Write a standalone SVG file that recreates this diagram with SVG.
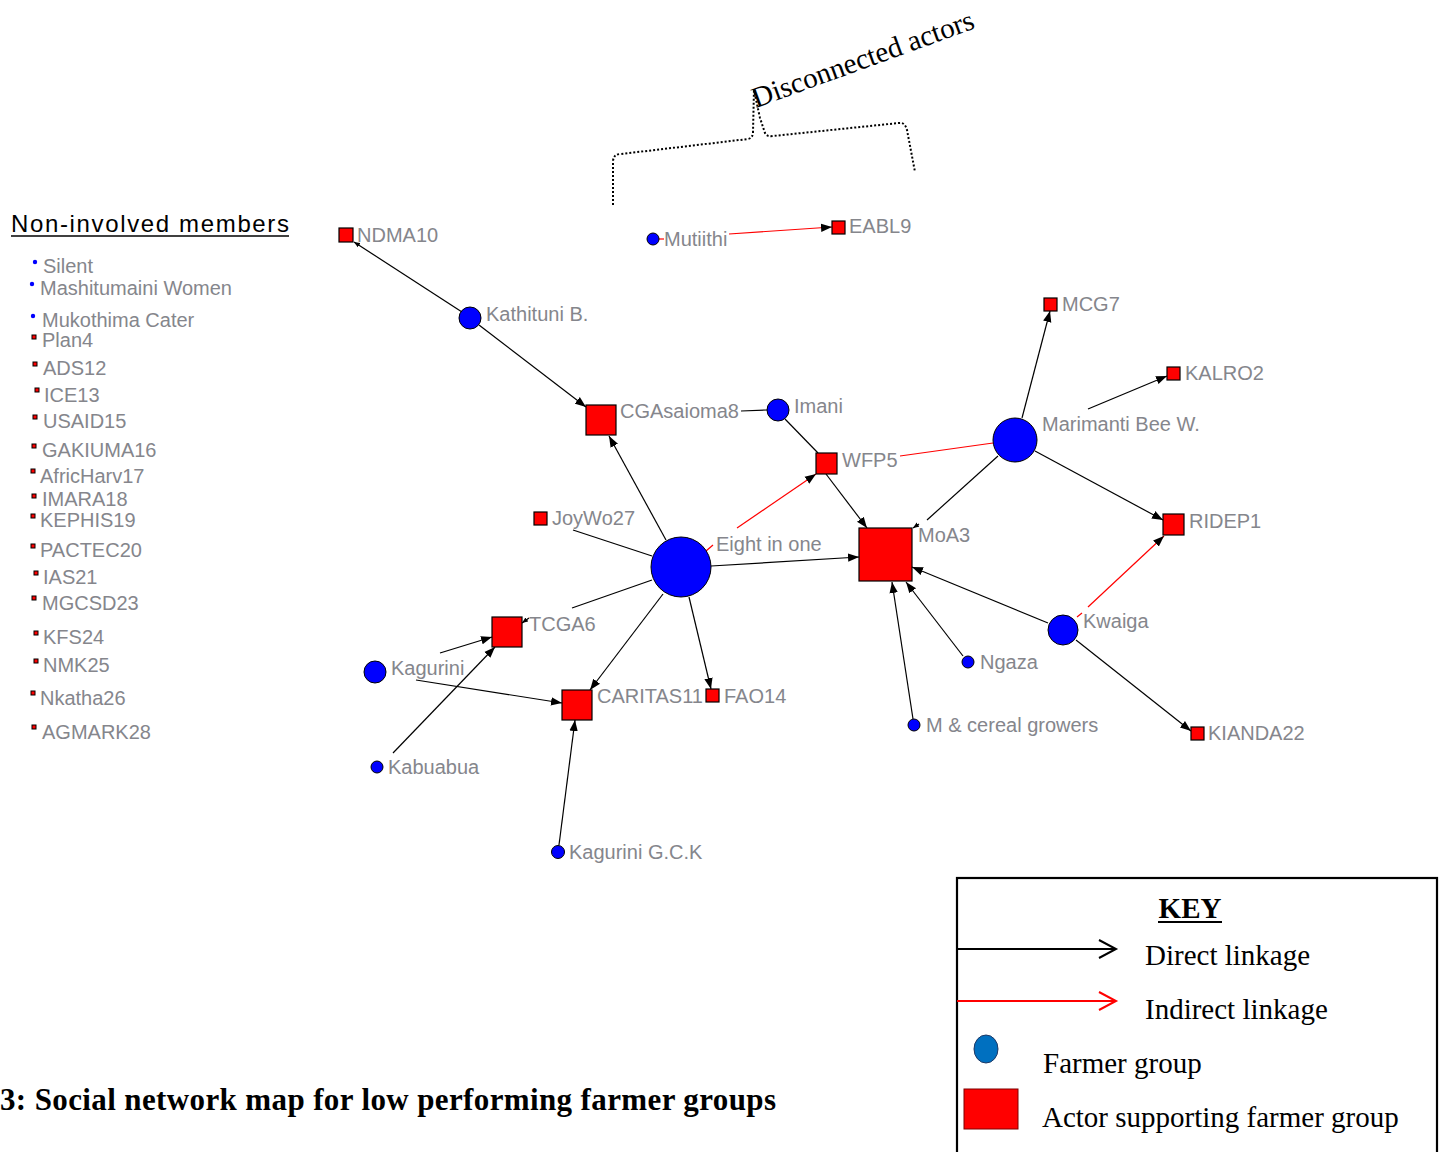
<svg xmlns="http://www.w3.org/2000/svg" width="1443" height="1152" viewBox="0 0 1443 1152">
  <defs>
    <marker id="arr" markerUnits="userSpaceOnUse" markerWidth="12" markerHeight="10" refX="11" refY="5" orient="auto">
      <path d="M0,0.8 L11,5 L0,9.2 Z" fill="#000"/>
    </marker>
    <marker id="arrS" markerUnits="userSpaceOnUse" markerWidth="7" markerHeight="6" refX="6" refY="3" orient="auto">
      <path d="M0,0.5 L6,3 L0,5.5 Z" fill="#000"/>
    </marker>
    <style>
      .lbl { font-family: "Liberation Sans", Arial, sans-serif; font-size: 20px; fill: #85868c; }
      .fg { fill: #0000ff; stroke: #000; stroke-width: 1; }
      .act { fill: #ff0000; stroke: #000; stroke-width: 1.2; }
      .mini-act { fill: #ff0000; stroke: #000; stroke-width: 1; }
      .dl { stroke: #000; stroke-width: 1.2; fill: none; }
      .il { stroke: #ff0000; stroke-width: 1.2; fill: none; }
      .arrowed { marker-end: url(#arr); }
      .serif { font-family: "Liberation Serif", "Times New Roman", serif; fill: #000; }
    </style>
  </defs>

  <rect width="1443" height="1152" fill="#fff"/>

  <!-- bracket and note over the isolated pair -->
  <g id="disconnected-note">
    <path d="M613,205 L613,162 Q613,154 621,154 L748,139 Q753,138 753,132 L754,89 Q756,100 760,118 L765,133 Q767,137 773,136 L899,123 Q905,122 907,130 L915,172" fill="none" stroke="#000" stroke-width="2" stroke-dasharray="2,2"/>
    <text class="serif" font-size="29" transform="translate(756,108) rotate(-20)">Disconnected actors</text>
  </g>

  <!-- members without ties -->
  <g id="non-involved">
    <text x="11" y="232" font-family="'Liberation Sans', Arial, sans-serif" font-size="24" textLength="278" fill="#000">Non-involved members</text>
    <line x1="11" y1="236" x2="289" y2="236" stroke="#000" stroke-width="1.5"/>
    <g class="lbl">
      <circle cx="35" cy="262" r="2.2" fill="#0000ff"/><text x="43" y="273">Silent</text>
      <circle cx="32" cy="284" r="2.2" fill="#0000ff"/><text x="40" y="295">Mashitumaini Women</text>
      <circle cx="33" cy="316" r="2.2" fill="#0000ff"/><text x="42" y="327">Mukothima Cater</text>
      <rect class="mini-act" x="32" y="335" width="4" height="4"/><text x="42" y="347">Plan4</text>
      <rect class="mini-act" x="33" y="362" width="4" height="4"/><text x="43" y="375">ADS12</text>
      <rect class="mini-act" x="35" y="388" width="4" height="4"/><text x="44" y="402">ICE13</text>
      <rect class="mini-act" x="33" y="415" width="4" height="4"/><text x="43" y="428">USAID15</text>
      <rect class="mini-act" x="32" y="444" width="4" height="4"/><text x="42" y="457">GAKIUMA16</text>
      <rect class="mini-act" x="31" y="469" width="4" height="4"/><text x="40" y="483">AfricHarv17</text>
      <rect class="mini-act" x="32" y="494" width="4" height="4"/><text x="42" y="506">IMARA18</text>
      <rect class="mini-act" x="31" y="514" width="4" height="4"/><text x="40" y="527">KEPHIS19</text>
      <rect class="mini-act" x="31" y="544" width="4" height="4"/><text x="40" y="557">PACTEC20</text>
      <rect class="mini-act" x="34" y="571" width="4" height="4"/><text x="43" y="584">IAS21</text>
      <rect class="mini-act" x="32" y="596" width="4" height="4"/><text x="42" y="610">MGCSD23</text>
      <rect class="mini-act" x="34" y="631" width="4" height="4"/><text x="43" y="644">KFS24</text>
      <rect class="mini-act" x="34" y="659" width="4" height="4"/><text x="43" y="672">NMK25</text>
      <rect class="mini-act" x="31" y="691" width="4" height="4"/><text x="40" y="705">Nkatha26</text>
      <rect class="mini-act" x="32" y="725" width="4" height="4"/><text x="42" y="739">AGMARK28</text>
    </g>
  </g>

  <!-- ties between actors -->
  <g id="connectors">
    <!-- direct -->
    <path class="dl" d="M462,312 L354,242" marker-end="url(#arrS)"/>
    <path class="dl arrowed" d="M479,325 L586,407"/>
    <path class="dl arrowed" d="M826,474 L867,528"/>
    <path class="dl arrowed" d="M711,566 L859,557"/>
    <path class="dl arrowed" d="M666,540 L609,436"/>
    <path class="dl" d="M652,580 L572,608"/>
    <path class="dl" d="M529,618 L522,623" marker-end="url(#arrS)"/>
    <path class="dl arrowed" d="M663,594 L590,690"/>
    <path class="dl arrowed" d="M689,597 L711,689"/>
    <path class="dl arrowed" d="M440,653 L492,637"/>
    <path class="dl arrowed" d="M416,680 L562,703"/>
    <path class="dl arrowed" d="M393,753 L495,647"/>
    <path class="dl arrowed" d="M559,845 L575,720"/>
    <path class="dl arrowed" d="M1022,418 L1050,311"/>
    <path class="dl arrowed" d="M1088,409 L1167,376"/>
    <path class="dl arrowed" d="M1035,451 L1163,520"/>
    <path class="dl arrowed" d="M1048,623 L912,567"/>
    <path class="dl arrowed" d="M1076,640 L1191,731"/>
    <path class="dl arrowed" d="M963,656 L906,582"/>
    <path class="dl arrowed" d="M913,719 L892,582"/>
    <path class="dl" d="M998,456 L927,520"/>
    <path class="dl" d="M919,524 L913,528" marker-end="url(#arrS)"/>
    <path class="dl" d="M741,411 L767,410"/>
    <path class="dl" d="M785,419 L818,453"/>
    <path class="dl" d="M652,556 L573,530"/>
    <!-- indirect -->
    <path class="il" d="M659,239 L664,239"/>
    <path class="il arrowed" d="M729,234 L832,227"/>
    <path class="il" d="M706,551 L713,545"/>
    <path class="il arrowed" d="M737,528 L816,474"/>
    <path class="il" d="M900,456 L993,443"/>
    <path class="il" d="M1077,617 L1082,613"/>
    <path class="il arrowed" d="M1088,607 L1164,536"/>
  </g>

  <!-- actors supporting farmer groups -->
  <g id="NDMA10"><rect class="act" x="339" y="228" width="14" height="14"/><text class="lbl" x="357" y="242">NDMA10</text></g>
  <g id="CGAsaioma8"><rect class="act" x="586" y="405" width="30" height="30"/><text class="lbl" x="620" y="418">CGAsaioma8</text></g>
  <g id="EABL9"><rect class="act" x="832" y="221" width="13" height="13"/><text class="lbl" x="849" y="233">EABL9</text></g>
  <g id="WFP5"><rect class="act" x="816" y="453" width="21" height="21"/><text class="lbl" x="842" y="467">WFP5</text></g>
  <g id="JoyWo27"><rect class="act" x="534" y="512" width="13" height="13"/><text class="lbl" x="552" y="525">JoyWo27</text></g>
  <g id="MoA3"><rect class="act" x="859" y="528" width="53" height="53"/><text class="lbl" x="918" y="542">MoA3</text></g>
  <g id="MCG7"><rect class="act" x="1044" y="298" width="13" height="13"/><text class="lbl" x="1062" y="311">MCG7</text></g>
  <g id="KALRO2"><rect class="act" x="1167" y="367" width="13" height="13"/><text class="lbl" x="1185" y="380">KALRO2</text></g>
  <g id="RIDEP1"><rect class="act" x="1163" y="514" width="21" height="21"/><text class="lbl" x="1189" y="528">RIDEP1</text></g>
  <g id="TCGA6"><rect class="act" x="492" y="617" width="30" height="30"/><text class="lbl" x="529" y="631">TCGA6</text></g>
  <g id="CARITAS11"><rect class="act" x="562" y="690" width="30" height="30"/><text class="lbl" x="597" y="703">CARITAS11</text></g>
  <g id="FAO14"><rect class="act" x="706" y="689" width="13" height="13"/><text class="lbl" x="724" y="703">FAO14</text></g>
  <g id="KIANDA22"><rect class="act" x="1191" y="727" width="13" height="13"/><text class="lbl" x="1208" y="740">KIANDA22</text></g>

  <!-- farmer groups -->
  <g id="Kathituni"><circle class="fg" cx="470" cy="318" r="11"/><text class="lbl" x="486" y="321">Kathituni B.</text></g>
  <g id="Mutiithi"><circle class="fg" cx="653" cy="239" r="6"/><text class="lbl" x="664" y="246">Mutiithi</text></g>
  <g id="Imani"><circle class="fg" cx="778" cy="410" r="11"/><text class="lbl" x="794" y="413">Imani</text></g>
  <g id="EightInOne"><circle class="fg" cx="681" cy="567" r="30"/><text class="lbl" x="716" y="551">Eight in one</text></g>
  <g id="Marimanti"><circle class="fg" cx="1015" cy="440" r="22"/><text class="lbl" x="1042" y="431">Marimanti Bee W.</text></g>
  <g id="Kagurini"><circle class="fg" cx="375" cy="672" r="11"/><text class="lbl" x="391" y="675">Kagurini</text></g>
  <g id="Kabuabua"><circle class="fg" cx="377" cy="767" r="6"/><text class="lbl" x="388" y="774">Kabuabua</text></g>
  <g id="KaguriniGCK"><circle class="fg" cx="558" cy="852" r="6.5"/><text class="lbl" x="569" y="859">Kagurini G.C.K</text></g>
  <g id="Kwaiga"><circle class="fg" cx="1063" cy="630" r="15"/><text class="lbl" x="1083" y="628">Kwaiga</text></g>
  <g id="Ngaza"><circle class="fg" cx="968" cy="662" r="6"/><text class="lbl" x="980" y="669">Ngaza</text></g>
  <g id="MCereal"><circle class="fg" cx="914" cy="725" r="6"/><text class="lbl" x="926" y="732">M &amp; cereal growers</text></g>

  <!-- legend -->
  <g id="key">
    <rect x="957" y="878" width="480" height="290" fill="#fff" stroke="#000" stroke-width="2.2"/>
    <text class="serif" x="1190" y="918" font-size="29" font-weight="bold" text-anchor="middle">KEY</text>
    <line x1="1158" y1="922" x2="1222" y2="922" stroke="#000" stroke-width="2"/>
    <line x1="957" y1="949" x2="1115" y2="949" stroke="#000" stroke-width="2"/>
    <path d="M1099,940 L1116,949 L1099,958" fill="none" stroke="#000" stroke-width="2"/>
    <text class="serif" x="1145" y="965" font-size="29">Direct linkage</text>
    <line x1="957" y1="1001" x2="1115" y2="1001" stroke="#ff0000" stroke-width="2"/>
    <path d="M1099,992 L1116,1001 L1099,1010" fill="none" stroke="#ff0000" stroke-width="2"/>
    <text class="serif" x="1145" y="1019" font-size="29">Indirect linkage</text>
    <ellipse cx="986" cy="1049" rx="12" ry="14" fill="#0070c0" stroke="#1f3864" stroke-width="1"/>
    <text class="serif" x="1043" y="1073" font-size="29">Farmer group</text>
    <rect x="964" y="1089" width="54" height="40" fill="#ff0000" stroke="#7f0000" stroke-width="1"/>
    <text class="serif" x="1042" y="1127" font-size="29">Actor supporting farmer group</text>
  </g>

  <!-- caption -->
  <text class="serif" x="0" y="1110" font-size="31" font-weight="bold" textLength="776">3: Social network map for low performing farmer groups</text>
</svg>
